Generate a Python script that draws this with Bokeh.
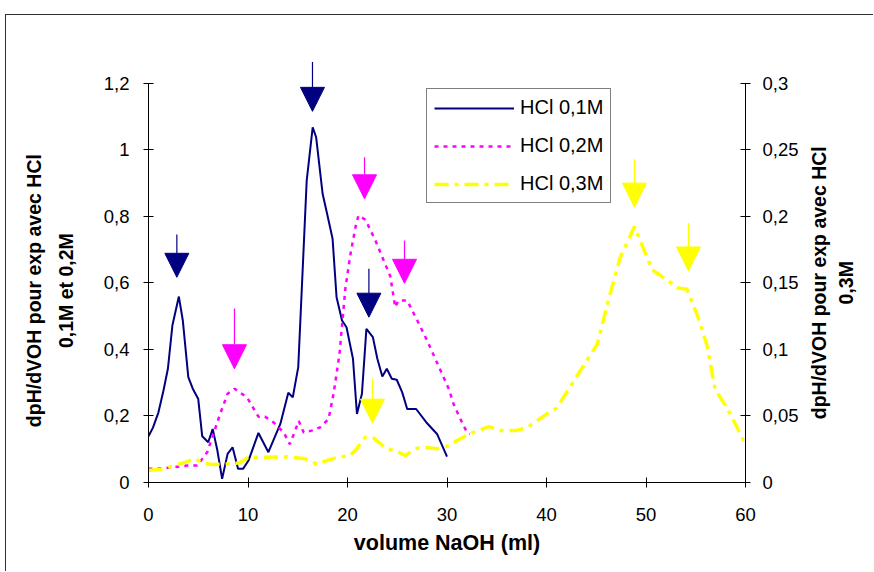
import math
from bokeh.plotting import figure
from bokeh.layouts import row
from bokeh.models import (Range1d, LinearAxis, FixedTicker, CustomJSTickFormatter,
                          Arrow, NormalHead, Label)
from bokeh.embed import file_html
from bokeh.resources import INLINE

FONT = "Liberation Sans"

# ---- data ----
vol_01 = [0, 0.45, 1.0, 1.5, 1.95, 2.4, 3.05, 3.45, 4.0, 4.45, 5.0, 5.4, 6.0, 6.45, 6.9,
          7.4, 7.95, 8.45, 9.0, 9.5, 10.05, 11.05, 12.05, 13.25, 14.05, 14.5, 15.05, 15.9,
          16.5, 16.85, 17.5, 17.95, 18.5, 18.9, 19.45, 19.9, 20.55, 20.95, 21.45, 21.9,
          22.55, 23.0, 23.5, 23.95, 24.45, 24.95, 25.5, 26.0, 26.9, 28.0, 29.0, 30.0]
dph_01 = [0.139, 0.165, 0.211, 0.276, 0.342, 0.472, 0.559, 0.487, 0.317, 0.282, 0.251, 0.139,
          0.121, 0.161, 0.100, 0.011, 0.086, 0.106, 0.041, 0.041, 0.066, 0.149, 0.091, 0.176,
          0.270, 0.256, 0.347, 0.908, 1.068, 1.038, 0.868, 0.808, 0.733, 0.557, 0.487, 0.467,
          0.372, 0.206, 0.267, 0.462, 0.437, 0.372, 0.319, 0.342, 0.312, 0.309, 0.271, 0.221,
          0.221, 0.178, 0.146, 0.078]

vol_02 = [0, 1.5, 2.5, 3.9, 4.9, 5.9, 7.2, 7.95, 8.65, 9.9, 11.05, 11.7, 12.6, 13.6, 14.2,
          14.6, 15.1, 15.6, 16.4, 17.25, 18.1, 18.6, 19.2, 19.5, 19.8, 20.3, 20.8, 21.1, 21.8,
          22.8, 24.3, 24.8, 25.1, 26.0, 27.1, 28.0, 30.2, 30.65, 31.2, 32.0, 32.3]
dph_02 = [0.041, 0.043, 0.046, 0.051, 0.051, 0.091, 0.206, 0.267, 0.282, 0.256, 0.198, 0.198,
          0.180, 0.150, 0.115, 0.145, 0.185, 0.150, 0.156, 0.166, 0.191, 0.267, 0.387, 0.490,
          0.587, 0.687, 0.767, 0.803, 0.790, 0.728, 0.620, 0.527, 0.547, 0.547, 0.482, 0.427,
          0.280, 0.237, 0.200, 0.151, 0.146]

vol_03 = [0, 1.5, 3.5, 4.7, 5.5, 6.4, 7.9, 9.2, 10.05, 11.05, 14.1, 15.75, 16.9, 17.93,
          19.27, 20.1, 20.77, 21.78, 22.6, 23.96, 24.96, 25.8, 26.8, 27.64, 28.98, 30.3, 31.0,
          32.3, 34.2, 35.35, 36.85, 38.0, 40.04, 41.05, 41.7, 43.4, 45.1, 46.4, 47.4, 48.85,
          50.6, 51.76, 53.27, 54.1, 55.1, 56.1, 56.95, 58.1, 58.8, 59.8]
dph_03 = [0.009, 0.0103, 0.0148, 0.0178, 0.0145, 0.0135, 0.014, 0.0148, 0.019, 0.019, 0.0193,
          0.0178, 0.014, 0.0165, 0.0195, 0.0195, 0.024, 0.034, 0.0335, 0.0253, 0.0235, 0.0203,
          0.0253, 0.0265, 0.0253, 0.0278, 0.0316, 0.0366, 0.042, 0.039, 0.039, 0.041, 0.0516,
          0.056, 0.064, 0.084, 0.104, 0.142, 0.169, 0.1924, 0.160, 0.154, 0.146, 0.1455, 0.127,
          0.104, 0.070, 0.0566, 0.0466, 0.0316]

series_labels = ["HCl 0,1M", "HCl 0,2M", "HCl 0,3M"]
x_title = "volume NaOH (ml)"
left_title = "dpH/dVOH pour exp avec HCl\n0,1M et 0,2M"
right_title = "dpH/dVOH pour exp avec HCl\n0,3M"

x_ticks = [0, 10, 20, 30, 40, 50, 60]
left_ticks = [0, 0.2, 0.4, 0.6, 0.8, 1.0, 1.2]
right_ticks = [0, 0.05, 0.1, 0.15, 0.2, 0.25, 0.3]

# peak marker arrows (x, arrow tip, arrow tail)
arrow_01_x = [2.85, 16.48, 22.15]
arrow_01_tip = [0.617, 1.116, 0.497]
arrow_01_tail = [0.746, 1.264, 0.643]
arrow_02_x = [8.64, 21.71, 25.73]
arrow_02_tip = [0.342, 0.853, 0.599]
arrow_02_tail = [0.523, 0.978, 0.728]
arrow_03_x = [22.51, 48.84, 54.27]          # right-axis units
arrow_03_tip = [0.0446, 0.207, 0.159]
arrow_03_tail = [0.078, 0.243, 0.195]

NAVY = "#000080"
MAGENTA = "#FF00FF"
YELLOW = "#FFFF00"

LEFT_MAX = 1.32
RIGHT_MAX = 0.33
H = 556
W_LEFT, W_MAIN, W_RIGHT = 85, 715, 67

p = figure(width=W_MAIN, height=H, x_range=Range1d(0, 60), y_range=Range1d(0, LEFT_MAX),
           output_backend="svg", toolbar_location=None,
           min_border_left=57, min_border_right=61, min_border_bottom=89, min_border_top=28)
p.extra_y_ranges = {"r": Range1d(0, RIGHT_MAX)}
p.outline_line_color = None
p.xgrid.visible = False
p.ygrid.visible = False
p.background_fill_color = "white"
p.border_fill_color = "white"

fmt = CustomJSTickFormatter(code="return (Math.round(tick*1000)/1000).toString().replace('.', ',');")

def style_axis(ax, size_lbl="18.5px"):
    ax.axis_line_color = "black"
    ax.major_tick_line_color = "black"
    ax.major_tick_in = 5
    ax.major_tick_out = 5
    ax.minor_tick_line_color = None
    ax.major_label_text_font = FONT
    ax.major_label_text_font_size = size_lbl
    ax.major_label_text_color = "black"
    ax.axis_label_text_font = FONT
    ax.axis_label_text_font_style = "bold"
    ax.axis_label_text_color = "black"
    ax.formatter = fmt

xa = p.xaxis[0]
style_axis(xa)
xa.ticker = FixedTicker(ticks=x_ticks)
xa.axis_label = x_title
xa.axis_label_text_font_size = "21.5px"
xa.major_label_standoff = 20
xa.axis_label_standoff = 7

ya = p.yaxis[0]
style_axis(ya)
ya.ticker = FixedTicker(ticks=left_ticks)
ya.bounds = (0, 1.2)
ya.major_label_standoff = 14

ra = LinearAxis(y_range_name="r")
style_axis(ra)
ra.ticker = FixedTicker(ticks=right_ticks)
ra.bounds = (0, 0.3)
ra.major_label_standoff = 12
p.add_layout(ra, "right")

p.line(vol_01, dph_01, line_color=NAVY, line_width=2, legend_label=series_labels[0])
p.line(vol_02, dph_02, line_color=MAGENTA, line_width=2.5, line_dash="4 5",
       legend_label=series_labels[1])
p.line(vol_03, dph_03, line_color=YELLOW, line_width=3.5, line_dash="14 6 4 6",
       y_range_name="r", legend_label=series_labels[2])

scale_r = LEFT_MAX / RIGHT_MAX
arrow_sets = [
    (arrow_01_x, arrow_01_tip, arrow_01_tail, NAVY, 1.0),
    (arrow_02_x, arrow_02_tip, arrow_02_tail, MAGENTA, 1.0),
    (arrow_03_x, arrow_03_tip, arrow_03_tail, YELLOW, scale_r),
]
for xs, tips, tails, col, k in arrow_sets:
    for x, t, s in zip(xs, tips, tails):
        p.add_layout(Arrow(end=NormalHead(size=24, fill_color=col, line_color=col, line_width=1),
                           x_start=x, y_start=s * k, x_end=x, y_end=t * k,
                           line_color=col, line_width=1.2))

lg = p.legend[0]
lg.location = (278, 279)
lg.label_text_font = FONT
lg.label_text_font_size = "20px"
lg.label_text_color = "black"
lg.glyph_width = 80
lg.glyph_height = 20
lg.label_standoff = 6
lg.padding = 7
lg.spacing = 15
lg.margin = 0
lg.border_line_color = "black"
lg.border_line_width = 1
lg.background_fill_color = "white"
lg.background_fill_alpha = 1.0

# side panels carrying the vertical axis titles (pixel coordinates)
def side_panel(w, text, cx, cy, lh):
    s = figure(width=w, height=H, x_range=Range1d(0, w), y_range=Range1d(0, H),
               x_axis_type=None, y_axis_type=None, output_backend="svg",
               toolbar_location=None, min_border=0)
    s.outline_line_color = None
    s.background_fill_color = "white"
    s.border_fill_color = "white"
    s.add_layout(Label(x=cx, y=cy, text=text, angle=math.pi / 2,
                       text_align="center", text_baseline="middle",
                       text_font=FONT, text_font_size="19.5px", text_font_style="bold",
                       text_color="black", text_line_height=lh))
    return s

pl = side_panel(W_LEFT, left_title, 43.5, 243, 1.42)
pr = side_panel(W_RIGHT, right_title, 26, 253, 1.2)

layout = row(pl, p, pr, spacing=0)
layout.styles = {"margin-left": "5px", "margin-top": "14px",
                 "border-left": "1px solid #303030", "border-top": "1px solid #303030"}

open("out.html", "w").write(file_html(layout, INLINE))
